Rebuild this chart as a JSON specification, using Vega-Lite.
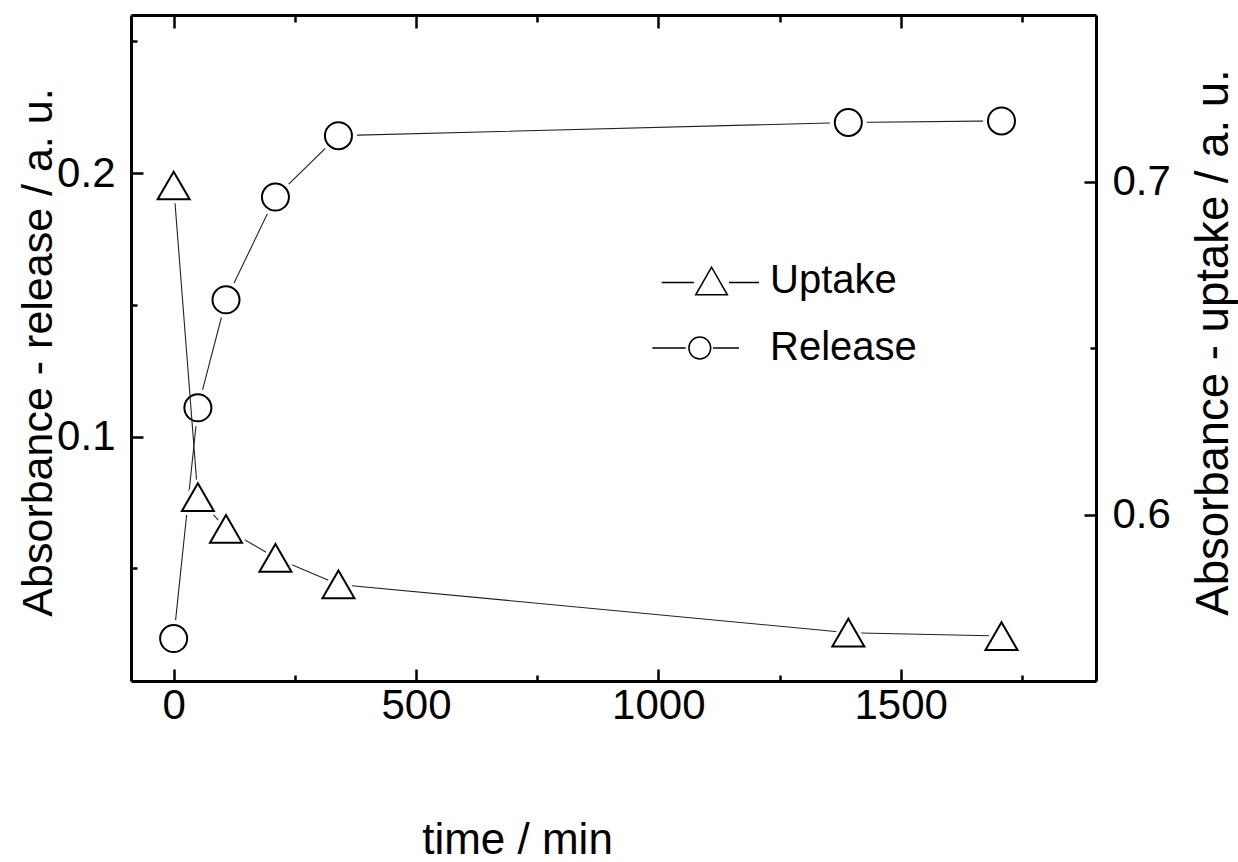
{
  "$schema": "https://vega.github.io/schema/vega-lite/v6.json",
  "autosize": "none",
  "padding": {"left": 131, "top": 15, "right": 142, "bottom": 181},
  "width": 965,
  "height": 666,
  "datasets": {
    "points": [
      {"time": 0, "series": "Release", "absorbance": 0.0233},
      {"time": 50, "series": "Release", "absorbance": 0.1109},
      {"time": 108, "series": "Release", "absorbance": 0.1519},
      {"time": 210, "series": "Release", "absorbance": 0.1909},
      {"time": 340, "series": "Release", "absorbance": 0.2142},
      {"time": 1392, "series": "Release", "absorbance": 0.2192},
      {"time": 1708, "series": "Release", "absorbance": 0.2198},
      {"time": 0, "series": "Uptake", "absorbance": 0.6988},
      {"time": 50, "series": "Uptake", "absorbance": 0.6052},
      {"time": 108, "series": "Uptake", "absorbance": 0.5957},
      {"time": 210, "series": "Uptake", "absorbance": 0.587},
      {"time": 340, "series": "Uptake", "absorbance": 0.579},
      {"time": 1392, "series": "Uptake", "absorbance": 0.5645},
      {"time": 1708, "series": "Uptake", "absorbance": 0.5635}
    ]
  },
  "layer": [
    {
      "data": {"name": "points"},
      "transform": [{"filter": "datum.series === 'Release'"}],
      "encoding": {
        "x": {
          "field": "time", "type": "quantitative",
          "scale": {"domain": [-88, 1903], "nice": false, "zero": false},
          "axis": {
            "orient": "bottom",
            "values": [0, 250, 500, 750, 1000, 1250, 1500, 1750],
            "labelExpr": "datum.value % 500 === 0 ? datum.label : ''",
            "format": "d",
            "tickSize": {"condition": {"test": "datum.value % 500 === 0", "value": -12}, "value": -6},
            "labelPadding": 16,
            "labelFlush": false,
            "title": "time / min",
            "titleX": 386,
            "titleY": 172,
            "titleAlign": "center",
            "titleBaseline": "alphabetic",
            "titleFontSize": 44
          }
        },
        "y": {
          "field": "absorbance", "type": "quantitative",
          "scale": {"domain": [0.0072, 0.26], "nice": false, "zero": false},
          "axis": {
            "orient": "left",
            "values": [0.05, 0.1, 0.15, 0.2, 0.25],
            "labelExpr": "abs(datum.value*10 - round(datum.value*10)) < 0.001 ? format(datum.value, '.1f') : ''",
            "tickSize": {"condition": {"test": "abs(datum.value*10 - round(datum.value*10)) < 0.001", "value": -12}, "value": -6},
            "labelPadding": 28,
            "labelFlush": false,
            "title": "Absorbance - release / a. u.",
            "titleAngle": -90,
            "titleX": -80,
            "titleY": 337,
            "titleAlign": "center",
            "titleBaseline": "alphabetic"
          }
        }
      },
      "layer": [
        {"mark": {"type": "line", "color": "#222222", "strokeWidth": 1.1}},
        {"mark": {"type": "point", "shape": "circle", "size": 729, "fill": "white", "stroke": "white", "strokeWidth": 10, "opacity": 1, "filled": false}},
        {"mark": {"type": "point", "shape": "circle", "size": 729, "fill": "white", "stroke": "black", "strokeWidth": 2, "opacity": 1, "filled": false}}
      ]
    },
    {
      "data": {"name": "points"},
      "transform": [{"filter": "datum.series === 'Uptake'"}],
      "encoding": {
        "x": {
          "field": "time", "type": "quantitative",
          "scale": {"domain": [-88, 1903], "nice": false, "zero": false},
          "axis": {
            "orient": "top",
            "values": [0, 250, 500, 750, 1000, 1250, 1500, 1750],
            "labels": false,
            "tickSize": {"condition": {"test": "datum.value % 500 === 0", "value": -13}, "value": -7},
            "title": null
          }
        },
        "y": {
          "field": "absorbance", "type": "quantitative",
          "scale": {"domain": [0.55, 0.75], "nice": false, "zero": false},
          "axis": {
            "orient": "right",
            "values": [0.6, 0.65, 0.7],
            "labelExpr": "abs(datum.value*10 - round(datum.value*10)) < 0.001 ? format(datum.value, '.1f') : ''",
            "tickSize": {"condition": {"test": "abs(datum.value*10 - round(datum.value*10)) < 0.001", "value": -12}, "value": -6},
            "labelPadding": 28,
            "labelFlush": false,
            "title": "Absorbance - uptake / a. u.",
            "titleAngle": -90,
            "titleX": 131,
            "titleY": 327,
            "titleAlign": "center",
            "titleBaseline": "alphabetic",
            "titleFontSize": 45.5
          }
        }
      },
      "layer": [
        {"mark": {"type": "line", "color": "#222222", "strokeWidth": 1.1}},
        {"mark": {"type": "point", "shape": "triangle-up", "size": 1024, "fill": "white", "stroke": "white", "strokeWidth": 8, "strokeJoin": "round", "opacity": 1, "filled": false}},
        {"mark": {"type": "point", "shape": "triangle-up", "size": 1024, "fill": "white", "stroke": "black", "strokeWidth": 2, "opacity": 1, "filled": false}}
      ]
    },
    {
      "data": {"values": []},
      "mark": {"type": "point", "size": 1024, "fill": "white", "stroke": "black", "strokeWidth": 1.7, "opacity": 1, "filled": false},
      "encoding": {
        "shape": {
          "field": "series", "type": "nominal",
          "scale": {
            "domain": ["Uptake", "Release"],
            "range": [
              "M-2.71,0.1L-0.69,0.1M0.41,-0.866L-0.58,0.866L1.4,0.866ZM1.5,0.1L3.375,0.1",
              "M-3.29,0L-1.21,0M-1.005,0A0.68,0.68,0,1,0,0.355,0A0.68,0.68,0,1,0,-1.005,0ZM0.5,0L2.125,0"
            ]
          },
          "legend": {
            "orient": "none", "legendX": 554, "legendY": 246,
            "title": null, "padding": 0,
            "labelFont": "Liberation Sans", "labelFontSize": 40, "labelColor": "black",
            "labelOffset": 45, "rowPadding": 27, "symbolSize": 1024
          }
        }
      }
    }
  ],
  "resolve": {"scale": {"y": "independent"}, "axis": {"x": "independent"}},
  "config": {
    "view": {"stroke": null},
    "font": "Liberation Sans",
    "axis": {
      "labelFont": "Liberation Sans", "titleFont": "Liberation Sans",
      "labelFontSize": 42, "titleFontSize": 43, "titleFontWeight": "normal",
      "labelColor": "black", "titleColor": "black",
      "domainColor": "black", "tickColor": "black",
      "domainWidth": 3, "tickWidth": 2.5, "grid": false
    }
  }
}
